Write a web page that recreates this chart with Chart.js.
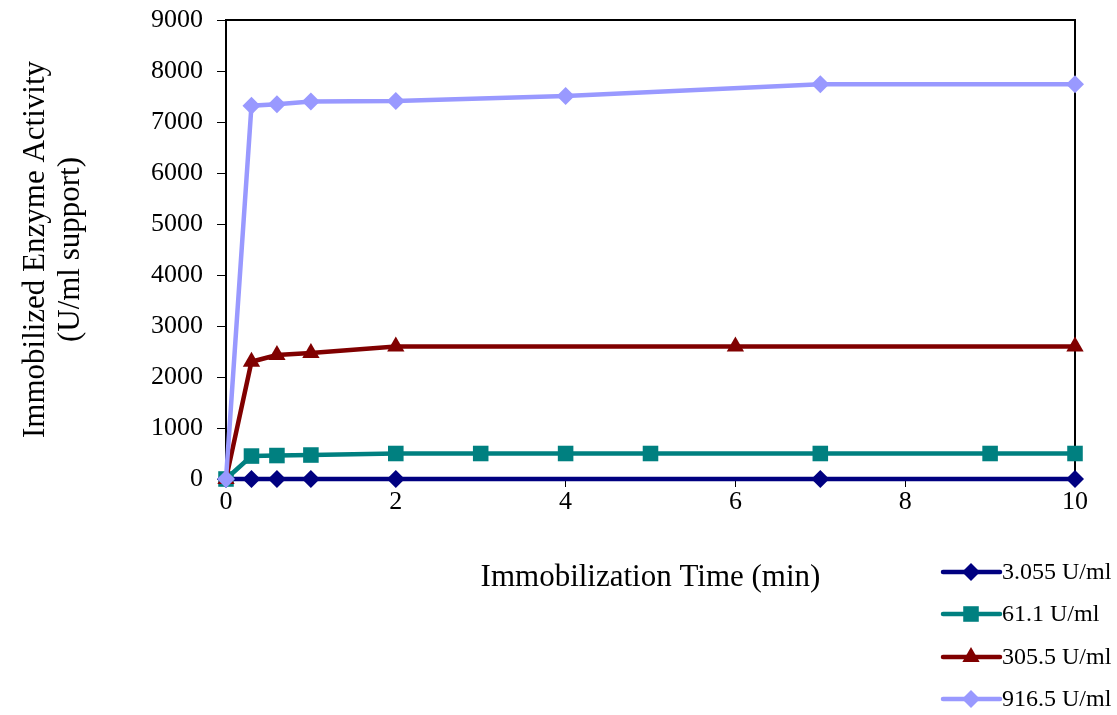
<!DOCTYPE html>
<html>
<head>
<meta charset="utf-8">
<script src="https://cdn.jsdelivr.net/npm/chart.js@4.4.1/dist/chart.umd.min.js"></script>
<style>
  html, body { margin: 0; padding: 0; background: #fff; }
  #wrap { width: 1117px; height: 715px; }
</style>
</head>
<body>
<div id="wrap"><canvas id="chartLine" width="1117" height="715"></canvas></div>
<script>
// values
const labels = ['3.055 U/ml', '61.1 U/ml', '305.5 U/ml', '916.5 U/ml'];

const time1 = [0, 0.3, 0.6, 1, 2, 7, 10];
const act1 = [0, 0, 0, 0, 0, 0, 0];

const time2 = [0, 0.3, 0.6, 1, 2, 3, 4, 5, 7, 9, 10];
const act2 = [0, 450, 460, 470, 500, 500, 500, 500, 500, 500, 500];

const time3 = [0, 0.3, 0.6, 1, 2, 6, 10];
const act3 = [0, 2300, 2430, 2470, 2600, 2600, 2600];

const time4 = [0, 0.3, 0.6, 1, 2, 4, 7, 10];
const act4 = [0, 7320, 7350, 7400, 7410, 7510, 7740, 7740];

const xTicks = [0, 2, 4, 6, 8, 10];
const yTicks = [0, 1000, 2000, 3000, 4000, 5000, 6000, 7000, 8000, 9000];

const serif = "'Liberation Serif', 'Times New Roman', serif";

function pts(xs, ys) {
    return xs.map((x, i) => ({x: x, y: ys[i]}));
}

const styles = [
    {color: '#000080', point: 'rectRot', radius: 9, order: 3},
    {color: '#008080', point: 'rect', radius: 11, order: 2},
    {color: '#800000', point: 'triangle', radius: 10, order: 1},
    {color: '#9999FF', point: 'rectRot', radius: 9, order: 0},
];
const series = [pts(time1, act1), pts(time2, act2), pts(time3, act3), pts(time4, act4)];

const data = {
    datasets: series.map((d, i) => ({
        label: labels[i],
        data: d,
        borderColor: styles[i].color,
        backgroundColor: styles[i].color,
        borderWidth: 4.5,
        pointStyle: styles[i].point,
        pointRadius: styles[i].radius,
        pointBorderWidth: 0,
        pointBackgroundColor: styles[i].color,
        order: styles[i].order,
        clip: false,
        tension: 0
    }))
};

// frame round the plot area + legend at the bottom right
const framePlugin = {
    id: 'frame',
    beforeDatasetsDraw(chart) {
        const {ctx, chartArea: a} = chart;
        ctx.save();
        ctx.strokeStyle = '#000';
        ctx.lineWidth = 2;
        ctx.strokeRect(a.left, a.top, a.right - a.left, a.bottom - a.top);
        ctx.restore();
    },
    afterDraw(chart) {
        const ctx = chart.ctx;
        const rows = [572, 614, 657, 699];
        ctx.save();
        chart.data.datasets.forEach((ds, i) => {
            const y = rows[i];
            ctx.strokeStyle = ds.borderColor;
            ctx.lineWidth = 4.5;
            ctx.lineCap = 'round';
            ctx.beginPath();
            ctx.moveTo(943, y);
            ctx.lineTo(1000, y);
            ctx.stroke();
            ctx.fillStyle = ds.borderColor;
            Chart.helpers.drawPoint(ctx, {
                pointStyle: ds.pointStyle,
                radius: ds.pointRadius,
                borderWidth: 0
            }, 971, y);
            ctx.fillStyle = '#000';
            ctx.font = '24px ' + serif;
            ctx.textBaseline = 'middle';
            ctx.textAlign = 'left';
            ctx.fillText(ds.label, 1002, y + 1);
        });
        ctx.restore();
    }
};

const configLineChart = {
    type: 'line',
    data,
    options: {
        responsive: false,
        animation: false,
        layout: {
            padding: {left: 0, right: 42, top: 20, bottom: 119}
        },
        scales: {
            x: {
                type: 'linear',
                min: 0,
                max: 10,
                afterBuildTicks: (scale) => { scale.ticks = xTicks.map(v => ({value: v})); },
                afterFit: (scale) => {
                    scale.height = 117;
                    scale.paddingLeft = 0;
                    scale.paddingRight = 0;
                },
                grid: {
                    drawOnChartArea: false,
                    color: '#000',
                    tickLength: 8,
                    tickWidth: 1
                },
                border: {display: false},
                ticks: {
                    color: '#000',
                    padding: 0,
                    maxRotation: 0,
                    font: {family: serif, size: 26}
                },
                title: {
                    display: true,
                    text: 'Immobilization Time (min)',
                    color: '#000',
                    font: {family: serif, size: 31},
                    padding: {top: 0, bottom: 0}
                }
            },
            y: {
                min: 0,
                max: 9000,
                afterBuildTicks: (scale) => { scale.ticks = yTicks.map(v => ({value: v})); },
                afterFit: (scale) => {
                    scale.width = 226;
                    scale.paddingTop = 0;
                    scale.paddingBottom = 0;
                },
                grid: {
                    drawOnChartArea: false,
                    color: '#000',
                    tickLength: 9,
                    tickWidth: 1
                },
                border: {display: false},
                ticks: {
                    color: '#000',
                    padding: 14,
                    font: {family: serif, size: 26},
                    callback: (v) => String(v)
                },
                title: {
                    display: true,
                    text: ['Immobilized Enzyme Activity', '(U/ml support)'],
                    color: '#000',
                    font: {family: serif, size: 31, lineHeight: 1.13},
                    padding: {top: 18, bottom: 0}
                }
            }
        },
        plugins: {
            legend: {display: false},
            tooltip: {enabled: false}
        }
    },
    plugins: [framePlugin]
};

var chartLine = new Chart(
    document.getElementById('chartLine'),
    configLineChart
);
</script>
</body>
</html>
